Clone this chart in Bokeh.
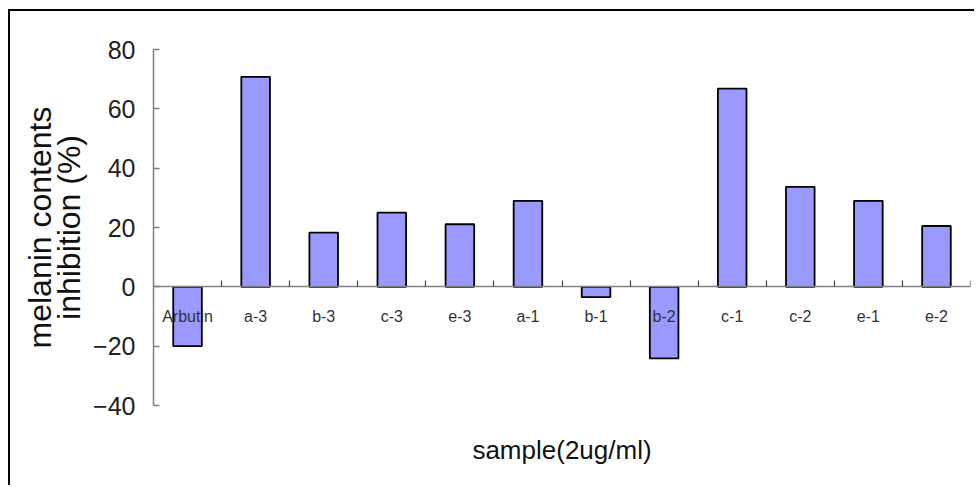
from bokeh.plotting import figure
from bokeh.models import Range1d, LinearAxis, FixedTicker, ColumnDataSource
from bokeh.embed import file_html
from bokeh.resources import INLINE

categories = ["Arbutin", "a-3", "b-3", "c-3", "e-3", "a-1", "b-1", "b-2", "c-1", "c-2", "e-1", "e-2"]
inhibition = [-20.0, 70.8, 18.3, 25.0, 21.1, 29.0, -3.5, -24.1, 66.8, 33.7, 29.0, 20.5]
y_ticks = [-40, -20, 0, 20, 40, 60, 80]

xs = list(range(len(categories)))
src = ColumnDataSource(dict(x=xs, top=inhibition, name=categories))

FONT = "Liberation Sans"

p = figure(width=966, height=476,
           x_range=Range1d(-0.5, len(categories) - 0.5),
           y_range=Range1d(y_ticks[0], y_ticks[-1]),
           x_axis_type=None, y_axis_type=None,
           output_backend="svg", toolbar_location=None,
           min_border_left=143, min_border_top=38,
           min_border_bottom=82, min_border_right=6)
p.styles = {"margin-left": "8px", "margin-top": "9px",
            "border-left": "2px solid black", "border-top": "2px solid black"}
p.outline_line_color = None
p.background_fill_color = "white"
p.border_fill_color = "white"

p.vbar(x="x", top="top", bottom=0, width=0.42, source=src,
       fill_color="#9999ff", line_color="black", line_width=1.8)

# y axis
yax = LinearAxis(ticker=FixedTicker(ticks=y_ticks, minor_ticks=[]),
                 major_label_overrides={t: (str(t).replace("-", "\u2212")) for t in y_ticks},
                 major_tick_in=6, major_tick_out=0,
                 axis_line_color="#808080", major_tick_line_color="#808080",
                 axis_line_width=1.5, major_tick_line_width=1.5,
                 major_label_text_font=FONT, major_label_text_font_size="25px",
                 major_label_text_color="#222222", major_label_standoff=18,
                 axis_label="melanin contents\ninhibition (%)",
                 axis_label_text_font=FONT, axis_label_text_font_size="32px",
                 axis_label_text_font_style="normal", axis_label_text_color="#111111",
                 axis_label_text_line_height=0.82, axis_label_standoff=3)
p.add_layout(yax, "left")

# category axis drawn at y = 0
xax = LinearAxis(fixed_location=0,
                 ticker=FixedTicker(ticks=xs, minor_ticks=[i - 0.5 for i in range(len(categories) + 1)]),
                 major_label_overrides={i: c for i, c in zip(xs, categories)},
                 major_tick_in=0, major_tick_out=0,
                 minor_tick_in=6, minor_tick_out=0,
                 axis_line_color="#808080", minor_tick_line_color="#404040",
                 axis_line_width=1.5, minor_tick_line_width=1.2,
                 major_label_text_font=FONT, major_label_text_font_size="16px",
                 major_label_text_color="#333333", major_label_standoff=21)
p.add_layout(xax, "below")

# x axis title only
xt = LinearAxis(ticker=FixedTicker(ticks=[], minor_ticks=[]),
                axis_line_color=None, major_tick_line_color=None, minor_tick_line_color=None,
                major_label_standoff=0, major_tick_out=0, major_tick_in=0,
                axis_label="sample(2ug/ml)",
                axis_label_text_font=FONT, axis_label_text_font_size="26px",
                axis_label_text_font_style="normal", axis_label_text_color="#111111",
                axis_label_standoff=29)
p.add_layout(xt, "below")

open("out.html", "w").write(file_html(p, INLINE))
